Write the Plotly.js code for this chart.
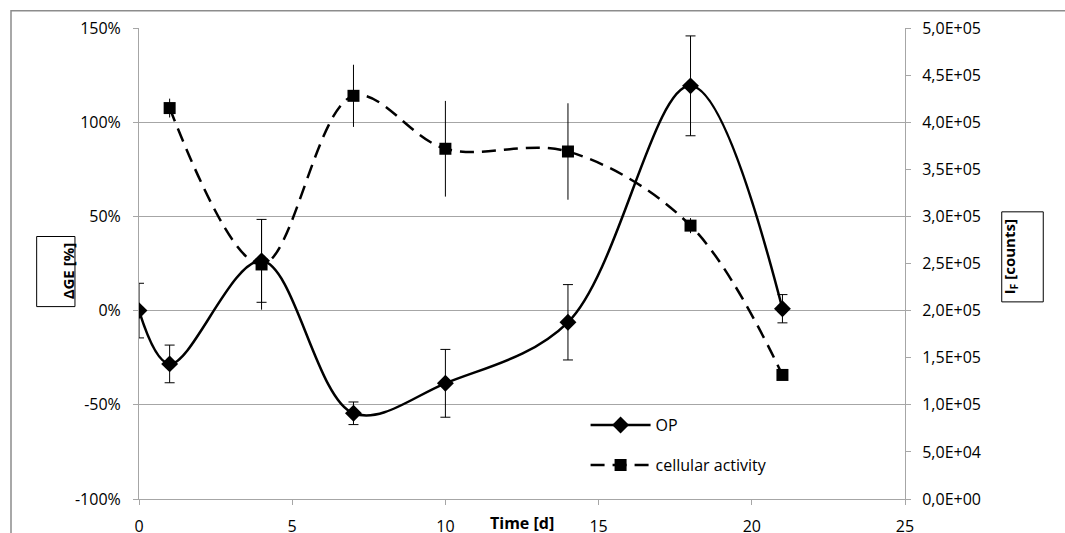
<!DOCTYPE html>
<html>
<head>
<meta charset="utf-8">
<script src="https://cdn.plot.ly/plotly-3.0.1.min.js"></script>
<style>html,body{margin:0;padding:0;background:#fff;}#chart{width:1065px;height:533px;}</style>
</head>
<body>
<div id="chart"></div>
<script>
// ---- data ----
const opDays = [0, 1, 4, 7, 10, 14, 18, 21];
const opValues = [0, -28.3, 26.4, -54.5, -38.6, -6.2, 119.3, 1];      // ΔGE [%]
const opErrors = [14.5, 10, 22, 6, 18, 20, 26.5, 7.5];

const cellDays = [1, 4, 7, 10, 14, 18, 21];
const cellValues = [415000, 249000, 428000, 371800, 368900, 290200, 131700]; // I_F [counts]
const cellErrors = [10000, 48000, 33000, 50800, 51200, 8000, 4000];

const leftTickVals = [-100, -50, 0, 50, 100, 150];
const leftTickText = ["-100%", "-50%", "0%", "50%", "100%", "150%"];
const rightTickVals = [0, 50000, 100000, 150000, 200000, 250000, 300000, 350000, 400000, 450000, 500000];
const rightTickText = ["0,0E+00", "5,0E+04", "1,0E+05", "1,5E+05", "2,0E+05", "2,5E+05", "3,0E+05", "3,5E+05", "4,0E+05", "4,5E+05", "5,0E+05"];
const xTickVals = [0, 5, 10, 15, 20, 25];

const FONT = "'Open Sans', 'Noto Sans', sans-serif";
const GRID = "#a6a6a6";

const traces = [
  {
    x: opDays, y: opValues, name: "OP", type: "scatter", mode: "lines+markers",
    line: {color: "#000", width: 2.5, shape: "spline", smoothing: 1},
    marker: {symbol: "diamond", size: 13, color: "#000"},
    error_y: {type: "data", array: opErrors, visible: true, color: "#000", thickness: 1, width: 5},
    legend: "legend"
  },
  {
    x: cellDays, y: cellValues, name: "cellular activity", type: "scatter", mode: "lines+markers",
    yaxis: "y2",
    line: {color: "#000", width: 2.5, shape: "spline", smoothing: 1, dash: "14px,8px"},
    marker: {symbol: "square", size: 12, color: "#000"},
    error_y: {type: "data", array: cellErrors, visible: true, color: "#000", thickness: 1, width: 0},
    legend: "legend2"
  }
];

const layout = {
  width: 1065, height: 533,
  margin: {l: 139, r: 160, t: 28, b: 34, pad: 0},
  paper_bgcolor: "#fff", plot_bgcolor: "#fff",
  font: {family: FONT, size: 16, color: "#000"},
  showlegend: true,
  xaxis: {
    range: [0, 25], tickvals: xTickVals, ticks: "outside", ticklen: 5, tickcolor: GRID,
    showgrid: false, zeroline: false, showline: true, linecolor: GRID, linewidth: 1,
    ticklabelstandoff: 8, tickfont: {size: 16}
  },
  yaxis: {
    range: [-100, 150], tickvals: leftTickVals, ticktext: leftTickText,
    ticks: "outside", ticklen: 5, tickcolor: GRID,
    showgrid: true, gridcolor: GRID, gridwidth: 1, zeroline: false,
    showline: true, linecolor: GRID, linewidth: 1, ticklabelstandoff: 9
  },
  yaxis2: {
    overlaying: "y", side: "right", range: [0, 500000],
    tickvals: rightTickVals, ticktext: rightTickText,
    ticks: "outside", ticklen: 5, tickcolor: GRID,
    showgrid: false, zeroline: false, showline: true, linecolor: GRID, linewidth: 1,
    ticklabelstandoff: 8
  },
  legend: {
    x: 0.583, y: 0.157, xanchor: "left", yanchor: "middle",
    bgcolor: "rgba(0,0,0,0)", font: {size: 16}, itemwidth: 60
  },
  legend2: {
    x: 0.583, y: 0.072, xanchor: "left", yanchor: "middle",
    bgcolor: "rgba(0,0,0,0)", font: {size: 16}, itemwidth: 60
  },
  shapes: [
    {type: "rect", xref: "paper", yref: "paper", x0: -0.1671, x1: 1.5, y0: -0.5, y1: 1.0368,
     line: {color: "#8c8c8c", width: 1.5}, fillcolor: "rgba(0,0,0,0)", layer: "below"},
    {type: "rect", xref: "paper", yref: "paper", x0: -0.1336, x1: -0.0836, y0: 0.4085, y1: 0.5573,
     line: {color: "#000", width: 1}, fillcolor: "rgba(0,0,0,0)"},
    {type: "rect", xref: "paper", yref: "paper", x0: 1.1263, x1: 1.1805, y0: 0.4185, y1: 0.6097,
     line: {color: "#000", width: 1}, fillcolor: "rgba(0,0,0,0)"}
  ],
  annotations: [
    {text: "<b>ΔGE [%]</b>", xref: "paper", yref: "paper", x: -0.1086, y: 0.4829,
     textangle: -90, showarrow: false, font: {size: 15}},
    {text: "<b>I<sub>F</sub> [counts]</b>", xref: "paper", yref: "paper", x: 1.1534, y: 0.5141,
     textangle: -90, showarrow: false, font: {size: 15}},
    {text: "<b>Time [d]</b>", xref: "paper", yref: "paper", x: 0.5, y: -0.051,
     yanchor: "middle", showarrow: false, font: {size: 16}}
  ]
};

Plotly.newPlot("chart", traces, layout, {displayModeBar: false, staticPlot: true});
</script>
</body>
</html>
